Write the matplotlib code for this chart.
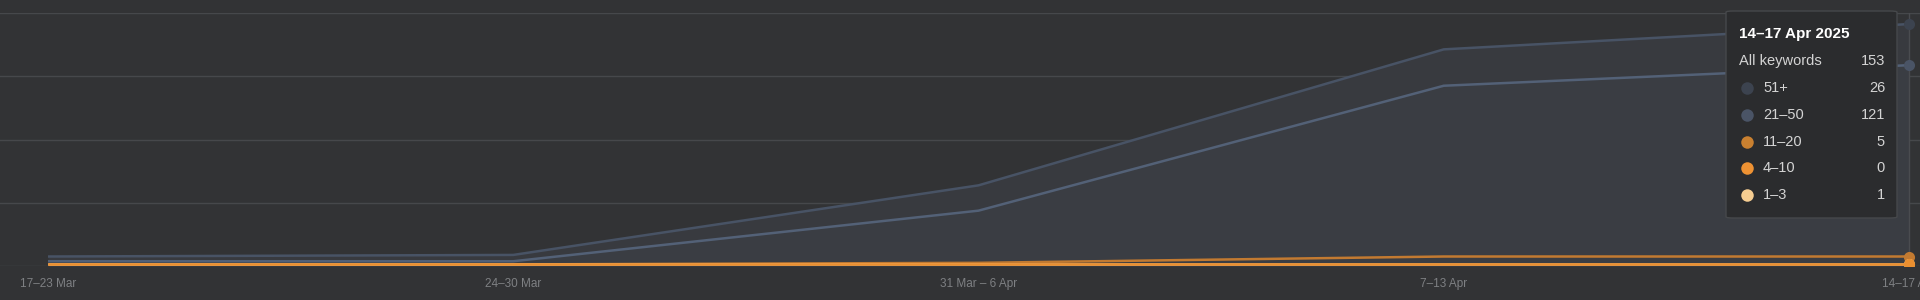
import numpy as np
import matplotlib
matplotlib.use("Agg")
import matplotlib.pyplot as plt
from matplotlib.patches import FancyBboxPatch
from matplotlib.lines import Line2D

plt.rcParams['font.family'] = ['Liberation Sans', 'DejaVu Sans']

weeks = ["17–23 Mar", "24–30 Mar", "31 Mar – 6 Apr", "7–13 Apr", "14–17 Apr"]
# stacked from bottom to top
groups = ["1–3", "4–10", "11–20", "21–50", "51+"]
pos_1_3 = [1, 1, 1, 1, 1]
pos_4_10 = [0, 0, 0, 0, 0]
pos_11_20 = [0, 0, 1, 5, 5]
pos_21_50 = [2, 2, 33, 108, 121]
pos_51 = [3, 4, 16, 23, 26]

tip_title = "14–17 Apr 2025"
tip_total = 153

line_colors = ["#f2c487", "#ea8f30", "#c27a31", "#536177", "#485365"]
dot_colors = ["#f6cd91", "#ee9233", "#c98030", "#4a5466", "#3c434f"]
bg = "#323335"

series = [pos_1_3, pos_4_10, pos_11_20, pos_21_50, pos_51]
x = np.arange(len(weeks))

W, H = 1920, 300
fig = plt.figure(figsize=(W / 100, H / 100), dpi=100)
fig.patch.set_facecolor(bg)
ax = fig.add_axes([0, 34 / H, 1, 253 / H])
ax.set_facecolor(bg)

cum = np.cumsum(np.array(series, dtype=float), axis=0)

# area fill (light haze under the blue lines)
ax.fill_between(x, 0, cum[4], color="#383a3f", lw=0, zorder=1)
ax.fill_between(x, 0, cum[3], color="#3a3d43", lw=0, zorder=1)

for yv in [0, 40, 80, 120, 160]:
    ax.axhline(yv, color="#46484b", lw=1, zorder=0.5)

# draw lines top-down so the lower ones end up on top
for k, i in enumerate([4, 3, 2, 0, 1]):
    ax.plot(x, cum[i], color=line_colors[i], lw=1.8, zorder=3 + k,
            solid_capstyle="butt")
    ax.plot(x[-1], cum[i][-1], "o", ms=8, color=dot_colors[i] if i > 2 else line_colors[i],
            zorder=10 + k, mec="none")

ax.axvline(x[-1], color="#4a4c50", lw=1, zorder=2)

step = 465.25
ax.set_xlim(-48 / step, 4 + 11 / step)
ax.set_ylim(0, 160)
ax.set_yticks([])
ax.set_xticks(x)
ax.set_xticklabels(weeks, color="#7e8083", fontsize=8.5)
ax.tick_params(axis="x", length=0, pad=15)
for lab in ax.get_xticklabels():
    lab.set_verticalalignment("baseline")
for s in ax.spines.values():
    s.set_visible(False)


def fx(px):
    return px / W


def fy(py):
    return 1 - py / H


box = FancyBboxPatch((fx(1726), fy(218)), fx(1897) - fx(1726), fy(11) - fy(218),
                     boxstyle="round,pad=0,rounding_size=0.004",
                     transform=fig.transFigure, facecolor="#2b2c2e",
                     edgecolor="#46484b", lw=1, zorder=20)
fig.patches.append(box)

fig.text(fx(1739), fy(34), tip_title, color="white", fontsize=11, fontweight="bold",
         va="center", ha="left", zorder=21)
fig.text(fx(1739), fy(61), "All keywords", color="#d4d4d4", fontsize=10.5,
         va="center", ha="left", zorder=21)
fig.text(fx(1885), fy(61), str(tip_total), color="#d4d4d4", fontsize=10.5,
         va="center", ha="right", zorder=21)

rows_y = [195, 168, 142, 115, 88]
for i in range(5):
    ry = rows_y[i]
    dot = Line2D([fx(1747)], [fy(ry)], marker="o", ms=9, color=dot_colors[i],
                 mec="none", ls="none", transform=fig.transFigure, zorder=21)
    fig.add_artist(dot)
    fig.text(fx(1763), fy(ry), groups[i], color="#d4d4d4", fontsize=10.5,
             va="center", ha="left", zorder=21)
    fig.text(fx(1885), fy(ry), str(series[i][-1]), color="#d4d4d4", fontsize=10.5,
             va="center", ha="right", zorder=21)

fig.savefig("out.png", dpi=100, facecolor=bg)
